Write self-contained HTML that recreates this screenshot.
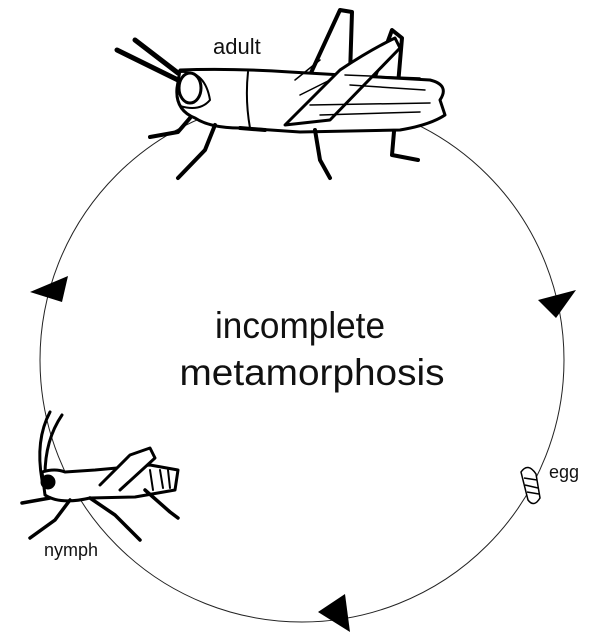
<!DOCTYPE html>
<html><head><style>
html,body{margin:0;padding:0;background:#fff;}
svg{display:block}
text{font-family:"Liberation Sans",sans-serif;fill:#111}
</style></head><body>
<svg width="605" height="640" viewBox="0 0 605 640" xmlns="http://www.w3.org/2000/svg">
<circle cx="302" cy="360" r="262" fill="none" stroke="#222" stroke-width="1"/>
<polygon points="30,292 68,276 62,302" fill="#000"/>
<polygon points="538,300 576,290 556,318" fill="#000"/>
<polygon points="318,612 345,594 350,632" fill="#000"/>
<text x="300" y="338" font-size="37" text-anchor="middle" textLength="170" lengthAdjust="spacingAndGlyphs">incomplete</text>
<text x="312" y="385" font-size="37" text-anchor="middle" textLength="265" lengthAdjust="spacingAndGlyphs">metamorphosis</text>
<text x="213" y="54" font-size="22">adult</text>
<text x="549" y="478" font-size="18">egg</text>
<text x="44" y="556" font-size="18">nymph</text>
<g stroke="#000" stroke-width="1.5" fill="#fff">
<path d="M521,472 Q528,462 536,474 L540,498 Q534,508 528,500 Z"/>
<path d="M524,478 L537,480 M525,485 L538,488 M527,492 L539,494" />
</g>
<g stroke="#000" stroke-width="3" fill="#fff" stroke-linejoin="round" stroke-linecap="round">
<path d="M117,50 L178,80 M135,40 L178,73" stroke-width="5"/>
<path d="M310,75 L340,10 L352,12 L350,75 M370,90 L392,30 L402,38 L392,155 L418,160" fill="none" stroke-width="4"/>
<path d="M180,70 Q230,68 290,72 L430,80 Q450,85 440,100 L445,115 Q430,125 400,130 L300,132 L240,128 Q210,128 195,118 Q175,110 177,88 Z"/>
<path d="M248,72 Q245,100 250,128 M180,72 Q205,70 210,100 Q200,112 180,106" fill="none" stroke-width="2"/>
<ellipse cx="190" cy="88" rx="11" ry="15"/>
<path d="M285,125 L340,70 Q370,50 395,38 L400,48 L330,120 Z"/>
<path d="M310,105 L430,103 M320,115 L420,112" fill="none" stroke-width="1.5"/>
<path d="M190,118 L178,132 L150,137 M215,125 L205,150 L178,178 M240,128 L265,130 M315,130 L320,160 L330,178" fill="none" stroke-width="4"/>
<path d="M295,80 L320,60 M300,95 L330,80 M345,75 L420,78 M350,85 L425,90" fill="none" stroke-width="1.5"/>
</g>
<g stroke="#000" stroke-width="3" fill="#fff" stroke-linejoin="round" stroke-linecap="round">
<path d="M42,480 Q35,440 50,412 M45,475 Q45,440 62,415" fill="none" stroke-width="3"/>
<path d="M42,472 Q55,468 65,472 L95,470 L150,465 L178,470 L175,490 L135,497 L90,498 Q60,505 45,495 Z"/>
<circle cx="48" cy="482" r="6" fill="#000"/>
<path d="M100,485 L130,455 L150,448 L155,458 L120,490" />
<path d="M50,498 L22,503 M70,500 L55,520 L30,538 M90,498 L115,515 L140,540 M145,490 L170,512 L178,518" fill="none" stroke-width="3.5"/>
<path d="M150,470 L153,490 M160,470 L163,488 M168,470 L170,488" fill="none" stroke-width="2"/>
</g>
</svg>
</body></html>
